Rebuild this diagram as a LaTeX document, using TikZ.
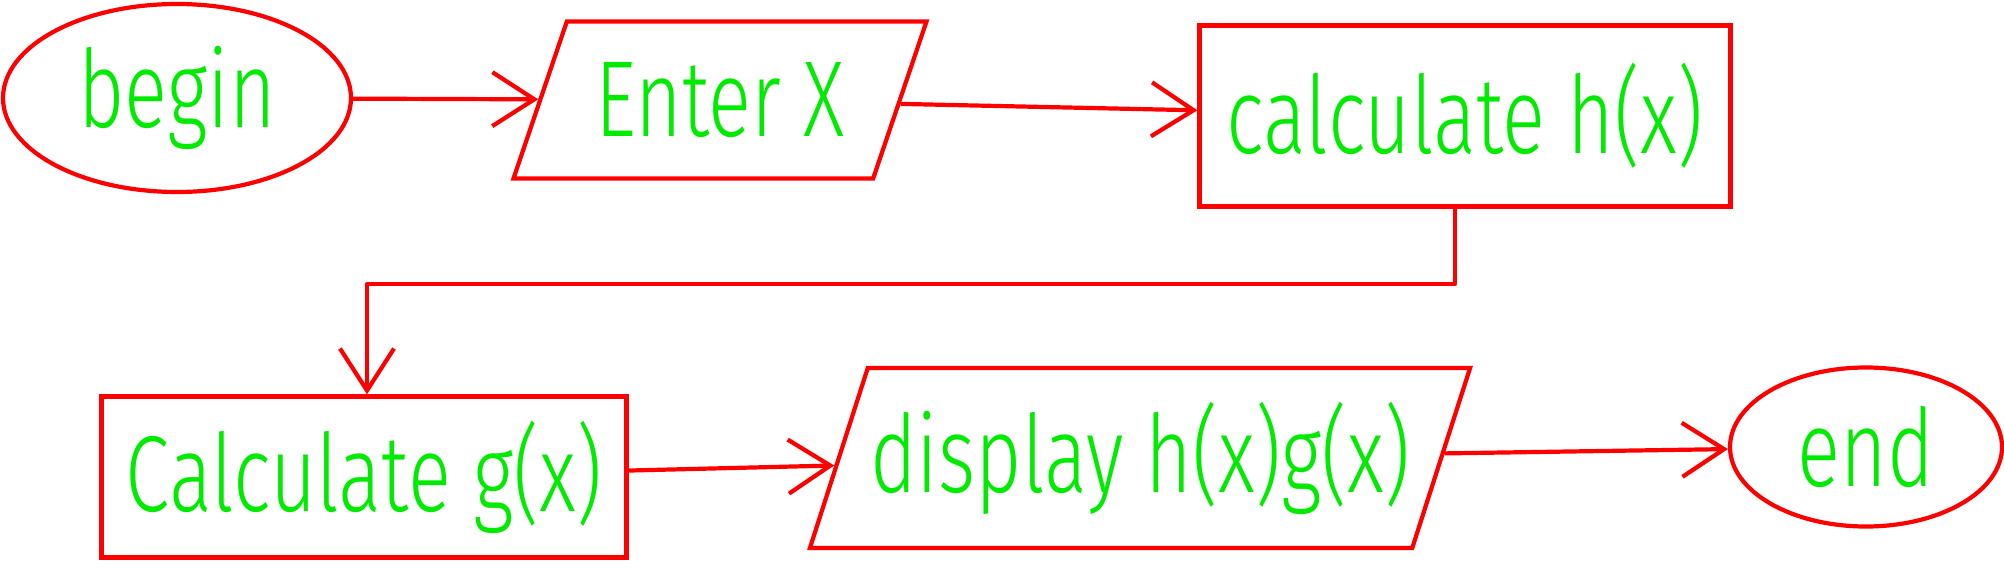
\documentclass[tikz,border=0pt]{standalone}
\usepackage{fontspec}
\setmainfont{Fira Sans Light}
\usetikzlibrary{shapes.geometric,arrows.meta,calc}
\definecolor{inkred}{RGB}{255,0,0}
\definecolor{inkgreen}{RGB}{0,235,0}
\newcommand{\hw}[1]{\scalebox{1}[1.35]{#1}}
\begin{document}
\begin{tikzpicture}[x=1pt,y=-1pt,
  shp/.style={draw=inkred,line width=4.2pt,inner sep=0pt,text=inkgreen,
    font=\fontsize{80}{96}\selectfont},
  oval/.style={shp,ellipse},
  box/.style={shp,rectangle},
  para/.style={shp,trapezium,trapezium stretches=true},
  arr/.style={draw=inkred,line width=4.2pt,line join=round,
    -{Straight Barb[length=42pt,width=54pt]}}]
\useasboundingbox (0,0) rectangle (2004,578);
\node[oval,minimum width=348pt,minimum height=188pt] (begin) at (177,98) {\hw{begin}};
\node[para,trapezium left angle=60,trapezium right angle=120,
  minimum width=415pt,minimum height=157pt] (enter) at (720,100) {\hw{Enter X}};
\node[box,minimum width=531pt,minimum height=181pt] (calch) at (1465,116) {\hw{calculate h(x)}};
\node[box,minimum width=525pt,minimum height=161pt] (calcg) at (364,477) {\hw{Calculate g(x)}};
\node[para,trapezium left angle=63,trapezium right angle=117,
  minimum width=661pt,minimum height=180pt] (disp) at (1140,458) {\hw{display h(x)g(x)}};
\node[oval,minimum width=272pt,minimum height=159pt] (stop) at (1866,447) {\hw{end}};
\coordinate (b1) at (1455,284);
\coordinate (b2) at (367,284);
\draw[arr] (begin) -- (enter);
\draw[arr] (enter) -- (calch);
\draw[arr] (calch.south -| b1) -- (b1) -- (b2) -- (b2 |- calcg.north);
\draw[arr] (calcg) -- (disp);
\draw[arr] (disp) -- (stop);
\end{tikzpicture}
\end{document}
